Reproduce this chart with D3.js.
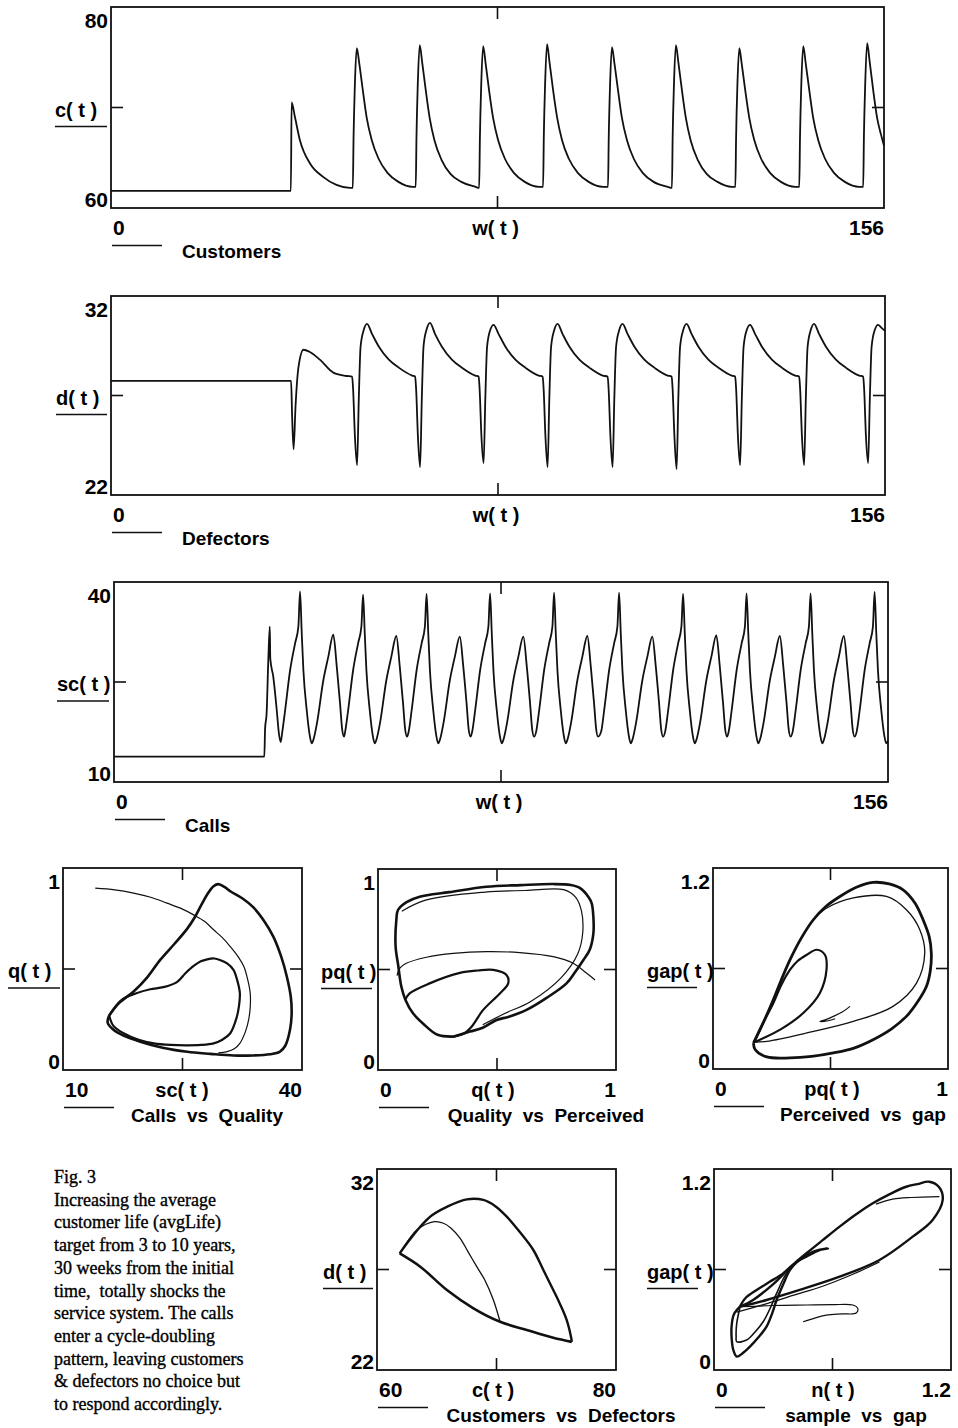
<!DOCTYPE html>
<html>
<head>
<meta charset="utf-8">
<script src="https://cdn.jsdelivr.net/npm/d3@7"></script>
<style>
  body { margin: 0; background: #fff; }
  svg text { font-family: "Liberation Sans", Arial, sans-serif; font-weight: bold; fill: #000; }
  svg text.caption { font-family: "Liberation Serif", "Times New Roman", serif; font-weight: normal; stroke: #000; stroke-width: 0.35; }
</style>
</head>
<body>
<svg width="958" height="1428"></svg>
<script>
// ---- data ----
const weekDomain = [0, 156];

// customers c(t), [week, value]
const customers = [
  [0,61.7],[36.3,61.7],[36.45,70.5],[37.1,69.1],[38.1,66.8],[40.2,64.4],[42.8,63.1],[45.5,62.3],[48.2,62.0],
  [48.8,62.0],[48.95,67.0],[49.2,72.0],[49.6,75.9],[50.1,74.4],[50.8,71.8],[51.6,69.0],[52.6,66.8],[54.0,64.9],[55.8,63.5],[58.0,62.6],[60.9,62.1],
  [61.5,62.1],[61.65,67.1],[61.9,72.1],[62.3,76.2],[62.8,74.5],[63.5,71.8],[64.3,69.0],[65.3,66.7],[66.7,64.8],[68.5,63.4],[70.7,62.6],[73.6,62.1],
  [74.3,62.0],[74.45,67.0],[74.7,72.0],[75.1,76.1],[75.6,74.4],[76.3,71.7],[77.1,69.0],[78.1,66.8],[79.5,64.9],[81.3,63.5],[83.5,62.6],[86.4,62.1],
  [87.2,62.1],[87.35,67.2],[87.6,72.2],[88.0,76.3],[88.5,74.5],[89.2,71.8],[90.0,69.1],[91.0,66.8],[92.4,64.9],[94.2,63.5],[96.4,62.6],[99.3,62.1],
  [100.3,62.1],[100.45,67.0],[100.7,72.0],[101.1,76.0],[101.6,74.4],[102.3,71.8],[103.1,69.0],[104.1,66.8],[105.5,64.9],[107.3,63.5],[109.5,62.6],[112.4,62.1],
  [113.2,62.0],[113.35,67.1],[113.6,72.1],[114.0,76.2],[114.5,74.5],[115.2,71.8],[116.0,69.0],[117.0,66.7],[118.4,64.8],[120.2,63.4],[122.4,62.6],[125.3,62.1],
  [126.0,62.1],[126.15,67.0],[126.4,72.0],[126.8,75.9],[127.3,74.3],[128.0,71.7],[128.8,69.0],[129.8,66.8],[131.2,64.9],[133.0,63.5],[135.2,62.6],[138.1,62.1],
  [138.9,62.1],[139.05,67.1],[139.3,72.1],[139.7,76.1],[140.2,74.4],[140.9,71.8],[141.7,69.0],[142.7,66.8],[144.1,64.9],[145.9,63.5],[148.1,62.6],[151.0,62.1],
  [151.8,62.1],[151.95,67.2],[152.2,72.2],[152.6,76.4],[153.1,74.6],[153.8,71.8],[154.6,69.0],[155.4,67.3],[156.0,66.2]
];

// defectors d(t)
const defectors = [
  [0,27.73],[36.3,27.73],[36.5,26.0],[36.8,24.3],[37.2,26.5],[37.8,28.45],[38.8,29.3],[40.0,29.2],[42.1,28.8],[44.8,28.15],[47.5,27.98],
  [48.6,27.95],[48.8,27.3],[49.15,25.0],[49.6,23.5],[49.95,26.9],[50.3,29.45],[50.95,30.3],[51.6,30.6],[52.6,30.1],[54.0,29.45],[56.0,28.8],[58.0,28.4],[60.7,28.0],
  [61.3,27.95],[61.5,27.3],[61.85,25.0],[62.3,23.4],[62.65,26.9],[63.0,29.5],[63.65,30.35],[64.3,30.65],[65.3,30.1],[66.7,29.45],[68.7,28.8],[70.7,28.4],[73.4,28.0],
  [74.1,27.95],[74.3,27.3],[74.65,25.0],[75.1,23.6],[75.45,26.9],[75.8,29.45],[76.45,30.3],[77.1,30.55],[78.1,30.1],[79.5,29.45],[81.5,28.8],[83.5,28.4],[86.2,28.0],
  [87.0,27.95],[87.2,27.3],[87.55,25.0],[88.0,23.4],[88.35,26.9],[88.7,29.45],[89.35,30.3],[90.0,30.6],[91.0,30.1],[92.4,29.45],[94.4,28.8],[96.4,28.4],[99.1,28.0],
  [100.1,27.95],[100.3,27.3],[100.65,25.0],[101.1,23.4],[101.45,26.9],[101.8,29.45],[102.45,30.3],[103.1,30.6],[104.1,30.1],[105.5,29.45],[107.5,28.8],[109.5,28.4],[112.2,28.0],
  [113.0,27.95],[113.2,27.3],[113.55,25.0],[114.0,23.3],[114.35,26.9],[114.7,29.45],[115.35,30.3],[116.0,30.6],[117.0,30.1],[118.4,29.45],[120.4,28.8],[122.4,28.4],[125.1,28.0],
  [125.8,27.95],[126.0,27.3],[126.35,25.0],[126.8,23.5],[127.15,26.9],[127.5,29.45],[128.15,30.3],[128.8,30.55],[129.8,30.1],[131.2,29.45],[133.2,28.8],[135.2,28.4],[137.9,28.0],
  [138.7,27.95],[138.9,27.3],[139.25,25.0],[139.7,23.5],[140.05,26.9],[140.4,29.45],[141.05,30.3],[141.7,30.6],[142.7,30.1],[144.1,29.45],[146.1,28.8],[148.1,28.4],[150.8,28.0],
  [151.6,27.95],[151.8,27.3],[152.15,25.0],[152.6,23.6],[152.95,26.9],[153.3,29.45],[153.95,30.3],[154.6,30.55],[155.3,30.4],[156,30.25]
];

// service calls sc(t)
const calls = [
  [0,13.8],[30.3,13.8],[30.45,18.0],[30.76,20.3],[31.1,28.3],[31.4,33.3],[31.5,28.5],[32.1,25.8],[32.8,20.8],[33.25,17.2],[33.6,16.0],
  [33.9,17.4],[34.5,20.8],[35.5,26.8],[36.5,30.8],[37.16,33.3],[37.5,38.6],[37.84,32.3],[38.17,26.8],[38.84,20.8],[39.45,17.0],[39.85,15.8],[40.25,16.5],[40.9,18.8],[42.2,25.3],[43.2,28.8],[44.2,32.1],[44.9,27.3],[45.56,21.8],[46.0,17.8],[46.37,16.8],
  [46.6,17.6],[47.2,20.8],[48.2,26.8],[49.2,30.8],[49.86,33.3],[50.2,38.1],[50.54,32.3],[50.87,26.8],[51.54,20.8],[52.15,17.0],[52.55,15.8],[52.95,16.5],[53.6,18.8],[54.9,25.3],[55.9,28.8],[56.9,31.9],[57.6,27.3],[58.26,21.8],[58.7,17.8],[59.07,16.8],
  [59.4,17.6],[60.0,20.8],[61.0,26.8],[62.0,30.8],[62.66,33.3],[63.0,38.2],[63.34,32.3],[63.67,26.8],[64.34,20.8],[64.95,17.0],[65.35,15.8],[65.75,16.5],[66.4,18.8],[67.7,25.3],[68.7,28.8],[69.7,31.8],[70.4,27.3],[71.06,21.8],[71.5,17.8],[71.87,16.8],
  [72.2,17.6],[72.8,20.8],[73.8,26.8],[74.8,30.8],[75.46,33.3],[75.8,38.3],[76.14,32.3],[76.47,26.8],[77.14,20.8],[77.75,17.0],[78.15,15.8],[78.55,16.5],[79.2,18.8],[80.5,25.3],[81.5,28.8],[82.5,31.8],[83.2,27.3],[83.86,21.8],[84.3,17.8],[84.67,16.8],
  [85.1,17.6],[85.7,20.8],[86.7,26.8],[87.7,30.8],[88.36,33.3],[88.7,38.4],[89.04,32.3],[89.37,26.8],[90.04,20.8],[90.65,17.0],[91.05,15.8],[91.45,16.5],[92.1,18.8],[93.4,25.3],[94.4,28.8],[95.4,31.9],[96.1,27.3],[96.76,21.8],[97.2,17.8],[97.57,16.8],
  [98.2,17.6],[98.8,20.8],[99.8,26.8],[100.8,30.8],[101.46,33.3],[101.8,38.4],[102.14,32.3],[102.47,26.8],[103.14,20.8],[103.75,17.0],[104.15,15.8],[104.55,16.5],[105.2,18.8],[106.5,25.3],[107.5,28.8],[108.5,31.8],[109.2,27.3],[109.86,21.8],[110.3,17.8],[110.67,16.8],
  [111.1,17.6],[111.7,20.8],[112.7,26.8],[113.7,30.8],[114.36,33.3],[114.7,38.2],[115.04,32.3],[115.37,26.8],[116.04,20.8],[116.65,17.0],[117.05,15.8],[117.45,16.5],[118.1,18.8],[119.4,25.3],[120.4,28.8],[121.4,32.0],[122.1,27.3],[122.76,21.8],[123.2,17.8],[123.57,16.8],
  [123.9,17.6],[124.5,20.8],[125.5,26.8],[126.5,30.8],[127.16,33.3],[127.5,38.3],[127.84,32.3],[128.17,26.8],[128.84,20.8],[129.45,17.0],[129.85,15.8],[130.25,16.5],[130.9,18.8],[132.2,25.3],[133.2,28.8],[134.2,31.9],[134.9,27.3],[135.56,21.8],[136.0,17.8],[136.37,16.8],
  [136.8,17.6],[137.4,20.8],[138.4,26.8],[139.4,30.8],[140.06,33.3],[140.4,38.3],[140.74,32.3],[141.07,26.8],[141.74,20.8],[142.35,17.0],[142.75,15.8],[143.15,16.5],[143.8,18.8],[145.1,25.3],[146.1,28.8],[147.1,31.9],[147.8,27.3],[148.46,21.8],[148.9,17.8],[149.27,16.8],
  [149.7,17.6],[150.3,20.8],[151.3,26.8],[152.3,30.8],[152.96,33.3],[153.3,38.5],[153.64,32.3],[153.97,26.8],[154.64,20.8],[155.25,17.0],[155.65,15.8],[156,16.2]
];

// calls vs quality: [sc, q]
const cqTransient = [[14.05,0.90],[16.5,0.892],[18.86,0.876],[21,0.855],[23.05,0.826],[24.8,0.80],[26.4,0.768],[27.8,0.735],[28.9,0.694],[30.0,0.655],[31.0,0.611],[32.0,0.56],[32.7,0.512],[33.2,0.445],[33.5,0.38],[33.5,0.31],[33.3,0.248],[32.9,0.19],[32.2,0.132],[31.5,0.105],[30.6,0.091],[29.5,0.085]];
const cqOuter = [[15.8,0.27],[17.0,0.33],[18.9,0.39],[20.6,0.46],[22.2,0.545],[24.0,0.625],[25.6,0.70],[26.6,0.76],[27.4,0.82],[28.2,0.875],[28.9,0.91],[29.5,0.92],[30.3,0.905],[31.0,0.885],[32.5,0.85],[33.9,0.805],[35.2,0.74],[36.4,0.66],[37.4,0.56],[38.1,0.462],[38.6,0.36],[38.7,0.28],[38.5,0.20],[37.9,0.12],[37.2,0.09],[36.0,0.078],[33.8,0.072],[31.4,0.072],[28.5,0.08],[25.6,0.09],[22.5,0.11],[19.7,0.14],[17.6,0.17],[16.3,0.2],[15.6,0.235],[15.8,0.27]];
const cqInner = [[15.8,0.27],[17.3,0.345],[19.2,0.38],[20.95,0.40],[22.6,0.41],[24.3,0.435],[25.4,0.48],[26.4,0.515],[27.3,0.538],[28.1,0.548],[29.0,0.552],[29.7,0.545],[30.6,0.528],[31.4,0.496],[31.9,0.44],[32.2,0.38],[32.1,0.32],[31.8,0.26],[31.0,0.182],[30.0,0.15],[28.9,0.132],[27.3,0.124],[25.6,0.122],[23.5,0.124],[21.4,0.132],[19.5,0.15],[17.6,0.182],[16.3,0.22],[15.8,0.27]];

// quality vs perceived: [q, pq]
const qpTransient = [[0.912,0.448],[0.877,0.481],[0.82,0.531],[0.736,0.564],[0.596,0.584],[0.456,0.589],[0.316,0.58],[0.204,0.561],[0.119,0.531],[0.091,0.506],[0.08,0.47]];
const qpOuter = [[0.316,0.166],[0.25,0.175],[0.19,0.23],[0.147,0.282],[0.115,0.35],[0.098,0.415],[0.085,0.52],[0.074,0.614],[0.077,0.746],[0.084,0.796],[0.12,0.835],[0.175,0.862],[0.3,0.885],[0.456,0.912],[0.6,0.92],[0.736,0.925],[0.81,0.92],[0.849,0.905],[0.885,0.86],[0.898,0.829],[0.905,0.76],[0.905,0.68],[0.89,0.6],[0.863,0.547],[0.83,0.49],[0.792,0.431],[0.71,0.36],[0.624,0.299],[0.55,0.265],[0.498,0.249],[0.44,0.21],[0.386,0.191],[0.316,0.166]];
const qpOuterB = [[0.1,0.79],[0.2,0.845],[0.45,0.885],[0.62,0.893],[0.78,0.897],[0.83,0.86],[0.855,0.79],[0.86,0.68],[0.84,0.58],[0.77,0.46],[0.64,0.34],[0.53,0.28],[0.44,0.225]];
const qpHook = [[0.115,0.35],[0.133,0.381],[0.217,0.431],[0.344,0.483],[0.42,0.495],[0.484,0.498],[0.54,0.473],[0.547,0.431],[0.512,0.381],[0.442,0.299],[0.393,0.215],[0.36,0.18],[0.316,0.166]];

// perceived vs gap: [pq, gap]
const pgTransient = [[0.583,0.374],[0.55,0.34],[0.512,0.314],[0.48,0.295],[0.455,0.284],[0.49,0.288],[0.52,0.30]];
const pgOuter = [[0.172,0.155],[0.215,0.28],[0.257,0.414],[0.29,0.53],[0.328,0.653],[0.375,0.78],[0.427,0.891],[0.48,0.97],[0.54,1.03],[0.61,1.085],[0.681,1.114],[0.75,1.105],[0.809,1.07],[0.86,0.99],[0.894,0.891],[0.92,0.79],[0.929,0.692],[0.925,0.59],[0.908,0.493],[0.87,0.40],[0.823,0.314],[0.76,0.24],[0.681,0.175],[0.6,0.125],[0.512,0.096],[0.42,0.075],[0.328,0.066],[0.229,0.072],[0.18,0.115],[0.172,0.155]];
const pgInner = [[0.44,0.91],[0.484,0.961],[0.597,1.021],[0.738,1.03],[0.823,0.951],[0.88,0.832],[0.901,0.692],[0.866,0.513],[0.766,0.374],[0.597,0.284],[0.399,0.215],[0.229,0.165],[0.18,0.16]];
const pgTear = [[0.175,0.16],[0.215,0.28],[0.257,0.394],[0.29,0.5],[0.328,0.593],[0.36,0.645],[0.399,0.682],[0.441,0.712],[0.476,0.682],[0.483,0.593],[0.455,0.454],[0.384,0.334],[0.286,0.235],[0.2,0.175],[0.175,0.16]];

// customers vs defectors: [c, d]
const cdLower = [[61.9,27.8],[63.62,27.14],[65.85,25.98],[68.07,25.07],[70.3,24.4],[72.53,23.99],[74.75,23.6],[76.3,23.4]];
const cdOuter = [[76.3,23.4],[76.25,23.6],[75.87,24.49],[75.3,25.3],[74.75,25.98],[73.9,27.0],[73.08,27.97],[71.9,28.9],[70.86,29.63],[69.9,30.15],[68.9,30.46],[67.52,30.49],[65.85,30.12],[64.6,29.7],[63.62,29.13],[62.7,28.45],[61.9,27.8]];
const cdInner = [[70.3,24.4],[69.74,25.48],[69.0,26.5],[68.35,27.14],[67.6,27.9],[66.96,28.55],[66.2,29.05],[65.57,29.3],[64.8,29.38],[63.34,28.97],[62.5,28.35],[61.9,27.8]];

// sample vs gap: [n, gap]
const sgTransient = [[0.451,0.288],[0.51,0.31],[0.569,0.328],[0.65,0.335],[0.72,0.34],[0.728,0.368],[0.703,0.388],[0.6,0.39],[0.468,0.388],[0.3,0.385],[0.131,0.378]];
const sgBig = [[0.131,0.378],[0.266,0.418],[0.434,0.478],[0.636,0.557],[0.838,0.657],[1.006,0.796],[1.107,0.896],[1.158,1.015],[1.141,1.09],[1.09,1.124],[1.03,1.11],[0.973,1.094],[0.89,1.05],[0.804,0.995],[0.72,0.93],[0.636,0.856],[0.55,0.775],[0.468,0.697],[0.41,0.64],[0.35,0.577],[0.28,0.525],[0.216,0.478],[0.16,0.43],[0.131,0.378]];
const sgTop = [[0.82,0.99],[0.905,1.02],[1.0,1.03],[1.141,1.035]];
const sgLower = [[0.115,0.345],[0.25,0.39],[0.4,0.445],[0.55,0.5],[0.7,0.57],[0.838,0.645]];
const sgLoopA = [[0.131,0.378],[0.1,0.33],[0.089,0.259],[0.09,0.18],[0.098,0.119],[0.115,0.08],[0.145,0.1],[0.182,0.139],[0.225,0.195],[0.266,0.259],[0.295,0.34],[0.317,0.418],[0.35,0.51],[0.384,0.597],[0.42,0.645],[0.468,0.677],[0.535,0.716],[0.577,0.726],[0.501,0.706],[0.4,0.627],[0.3,0.513],[0.198,0.418],[0.131,0.378]];
const sgLoopB = [[0.131,0.37],[0.115,0.278],[0.112,0.2],[0.115,0.169],[0.165,0.179],[0.21,0.23],[0.249,0.288],[0.285,0.37],[0.317,0.457],[0.367,0.577],[0.434,0.657],[0.5,0.7]];

const captionLines = [
  'Fig. 3',
  'Increasing the average',
  'customer life (avgLife)',
  'target from 3 to 10 years,',
  '30 weeks from the initial',
  'time,  totally shocks the',
  'service system. The calls',
  'enter a cycle-doubling',
  'pattern, leaving customers',
  '& defectors no choice but',
  'to respond accordingly.'
];

// ---- drawing ----
const svg = d3.select('svg');
const ink = '#111';

// box, mid ticks, end labels, axis names (Mathcad style)
const frame = (g, x, y, o) => {
  const [x0, x1] = x.range();
  const [y1, y0] = y.range();
  const xm = x(d3.mean(x.domain()));
  const ym = y(d3.mean(y.domain()));
  const tk = 12;

  g.append('rect')
    .attr('x', x0).attr('y', y0)
    .attr('width', x1 - x0).attr('height', y1 - y0)
    .attr('fill', 'none').attr('stroke', ink).attr('stroke-width', 1.8);

  const ticks = [
    [xm, y0, xm, y0 + tk], [xm, y1, xm, y1 - tk],
    [x0, ym, x0 + tk, ym], [x1, ym, x1 - tk, ym]
  ];
  g.selectAll('line.tick').data(ticks).join('line')
    .attr('class', 'tick')
    .attr('x1', d => d[0]).attr('y1', d => d[1])
    .attr('x2', d => d[2]).attr('y2', d => d[3])
    .attr('stroke', ink).attr('stroke-width', 1.6);

  // y end labels
  const yd = y.domain();
  g.append('text').attr('x', x0 - 3).attr('y', y0 + 21)
    .attr('text-anchor', 'end').attr('font-size', 21).text(yd[1]);
  g.append('text').attr('x', x0 - 3).attr('y', y1 - 1)
    .attr('text-anchor', 'end').attr('font-size', 21).text(yd[0]);

  // y variable with legend underline
  g.append('text').attr('x', o.ylx).attr('y', ym + 9)
    .attr('font-size', 20).text(o.yLabel);
  g.append('line')
    .attr('x1', o.ylx).attr('x2', o.ulx)
    .attr('y1', ym + 19).attr('y2', ym + 19)
    .attr('stroke', ink).attr('stroke-width', 1.4);

  // x end labels and variable
  const xd = x.domain();
  g.append('text').attr('x', x0 + 2).attr('y', y1 + 27)
    .attr('font-size', 21).text(xd[0]);
  g.append('text').attr('x', x1).attr('y', y1 + 27)
    .attr('text-anchor', 'end').attr('font-size', 21).text(xd[1]);
  g.append('text').attr('x', o.xvc).attr('y', y1 + 27)
    .attr('text-anchor', 'middle').attr('font-size', 20).text(o.xLabel);

  // trace legend: short line + name
  g.append('line')
    .attr('x1', x0 + 1).attr('x2', x0 + 51)
    .attr('y1', y1 + 37.5).attr('y2', y1 + 37.5)
    .attr('stroke', ink).attr('stroke-width', 1.4);
  const name = g.append('text').attr('y', y1 + o.nameDy)
    .attr('font-size', 19).attr('xml:space', 'preserve').text(o.name);
  if (o.nameC) name.attr('x', o.nameC).attr('text-anchor', 'middle');
  else name.attr('x', x0 + 71);
};

const timePanel = o => {
  const x = d3.scaleLinear().domain(weekDomain).range([o.x0, o.x1]);
  const y = d3.scaleLinear().domain(o.yDomain).range([o.y1, o.y0]);
  const g = svg.append('g');
  frame(g, x, y, { ...o, xLabel: 'w( t )', xvc: (o.x0 + o.x1) / 2 - 2, nameDy: 50 });
  const line = d3.line().x(d => x(d[0])).y(d => y(d[1])).curve(d3.curveMonotoneX);
  g.append('path').datum(o.data)
    .attr('d', line)
    .attr('fill', 'none').attr('stroke', ink)
    .attr('stroke-width', 1.8).attr('stroke-linejoin', 'round');
};

const phasePanel = o => {
  const x = d3.scaleLinear().domain(o.xDomain).range([o.x0, o.x1]);
  const y = d3.scaleLinear().domain(o.yDomain).range([o.y1, o.y0]);
  const g = svg.append('g');
  frame(g, x, y, { ...o, nameDy: 52 });
  const line = d3.line().x(d => x(d[0])).y(d => y(d[1])).curve(d3.curveCatmullRom.alpha(0.5));
  g.selectAll('path.trace').data(o.traces).join('path')
    .attr('class', 'trace')
    .attr('d', d => line(d.pts))
    .attr('fill', 'none').attr('stroke', ink)
    .attr('stroke-width', d => d.w)
    .attr('stroke-linejoin', 'round');
};

timePanel({ data: customers, yDomain: [60, 80], x0: 111, x1: 884, y0: 7, y1: 208,
  yLabel: 'c( t )', ylx: 55, ulx: 107, name: 'Customers' });
timePanel({ data: defectors, yDomain: [22, 32], x0: 111, x1: 885, y0: 296, y1: 495,
  yLabel: 'd( t )', ylx: 56, ulx: 107, name: 'Defectors' });
timePanel({ data: calls, yDomain: [10, 40], x0: 114, x1: 888, y0: 582, y1: 782,
  yLabel: 'sc( t )', ylx: 57, ulx: 109, name: 'Calls' });

phasePanel({ xDomain: [10, 40], yDomain: [0, 1], x0: 63, x1: 302, y0: 868, y1: 1070,
  yLabel: 'q( t )', ylx: 8, ulx: 60, xLabel: 'sc( t )', xvc: 182,
  name: 'Calls  vs  Quality', nameC: 207,
  traces: [{ pts: cqTransient, w: 1.2 }, { pts: cqOuter, w: 2.6 }, { pts: cqInner, w: 2.2 }] });

phasePanel({ xDomain: [0, 1], yDomain: [0, 1], x0: 378, x1: 616, y0: 869, y1: 1070,
  yLabel: 'pq( t )', ylx: 321, ulx: 372, xLabel: 'q( t )', xvc: 493,
  name: 'Quality  vs  Perceived', nameC: 546,
  traces: [{ pts: qpTransient, w: 1.2 }, { pts: qpOuter, w: 2.6 }, { pts: qpOuterB, w: 1.2 }, { pts: qpHook, w: 2.2 }] });

phasePanel({ xDomain: [0, 1], yDomain: [0, 1.2], x0: 713, x1: 948, y0: 868, y1: 1069,
  yLabel: 'gap( t )', ylx: 647, ulx: 697, xLabel: 'pq( t )', xvc: 832,
  name: 'Perceived  vs  gap', nameC: 863,
  traces: [{ pts: pgTransient, w: 1.2 }, { pts: pgOuter, w: 2.8 }, { pts: pgInner, w: 1.3 }, { pts: pgTear, w: 2.2 }] });

phasePanel({ xDomain: [60, 80], yDomain: [22, 32], x0: 377, x1: 616, y0: 1169, y1: 1370,
  yLabel: 'd( t )', ylx: 323, ulx: 373, xLabel: 'c( t )', xvc: 493,
  name: 'Customers  vs  Defectors', nameC: 561,
  traces: [{ pts: cdLower, w: 2.6 }, { pts: cdOuter, w: 2.4 }, { pts: cdInner, w: 1.3 }] });

phasePanel({ xDomain: [0, 1.2], yDomain: [0, 1.2], x0: 714, x1: 951, y0: 1169, y1: 1370,
  yLabel: 'gap( t )', ylx: 647, ulx: 698, xLabel: 'n( t )', xvc: 833,
  name: 'sample  vs  gap', nameC: 856,
  traces: [{ pts: sgTransient, w: 1.2 }, { pts: sgBig, w: 2.4 }, { pts: sgTop, w: 1.2 }, { pts: sgLower, w: 1.3 },
           { pts: sgLoopA, w: 2.4 }, { pts: sgLoopB, w: 1.6 }] });

// caption
svg.append('g').selectAll('text').data(captionLines).join('text')
  .attr('class', 'caption')
  .attr('x', 54)
  .attr('y', (d, i) => 1183 + i * 22.7)
  .attr('font-size', 18)
  .attr('xml:space', 'preserve')
  .text(d => d);
</script>
</body>
</html>
